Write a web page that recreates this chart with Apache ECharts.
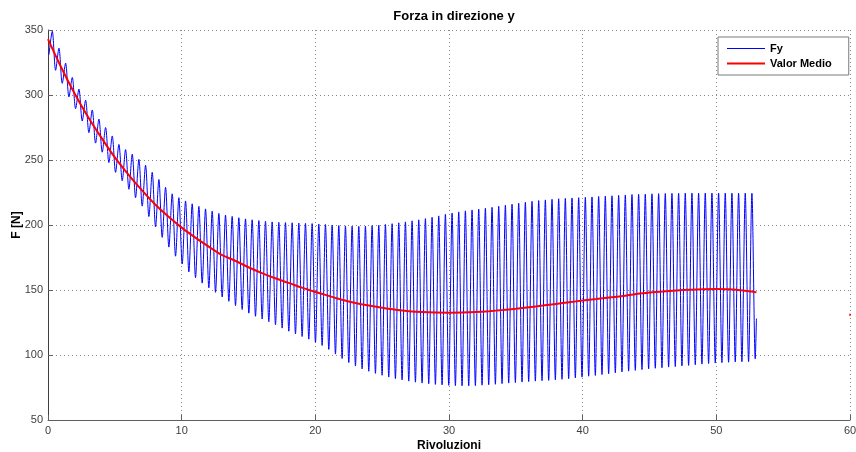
<!DOCTYPE html>
<html>
<head>
<meta charset="utf-8">
<style>
  html, body { margin: 0; padding: 0; background: #fff; }
  #chart { width: 856px; height: 452px; }
</style>
<script src="https://cdn.jsdelivr.net/npm/echarts@6/dist/echarts.min.js"></script>
</head>
<body>
<div id="chart"></div>
<script>
// Fy oscillation: successive minima and maxima of the force [N]
const fyTroughs = [
  331, 319, 309, 298.5, 289.5, 280, 271, 263, 256, 248,
  240.5, 234, 227.5, 221, 214.5, 206.5, 198.5, 190.5, 183, 176,
  170, 164, 159.5, 155.3, 151.7, 148.2, 144.7, 141.3, 138, 135,
  132.2, 129.8, 127.7, 125.6, 123.2, 120.7, 118.3, 116.2, 114.2, 112.2,
  109.8, 107.3, 104.3, 100.7, 97.3, 94.2, 91.5, 89.3, 87.5, 85.9,
  84.4, 83, 81.8, 80.8, 79.9, 79.1, 78.4, 77.9, 77.4, 77,
  76.7, 76.5, 76.3, 76.3, 76.5, 76.8, 77.1, 77.5, 78, 78.4,
  78.8, 79.2, 79.6, 79.9, 80.2, 80.5, 80.9, 81.3, 81.8, 82.4,
  83, 83.7, 84.3, 85, 85.6, 86.3, 87, 87.6, 88.2, 88.8,
  89.3, 89.8, 90.2, 90.7, 91.1, 91.6, 92, 92.5, 93, 93.5,
  93.8, 94.1, 94.4, 94.6, 94.8, 94.9, 97
];
const fyPeaks = [
  349, 336, 324.5, 313.5, 304.5, 296, 288.5, 281.5, 275, 268.5,
  262, 258, 254.5, 250.5, 246, 240.5, 235, 229, 224, 221,
  218.5, 216.3, 214.3, 212.4, 210.6, 208.9, 207.6, 206.6, 205.6, 204.7,
  204, 203.4, 202.9, 202.4, 202.1, 201.9, 201.7, 201.5, 201.3, 201.1,
  200.8, 200.4, 200, 199.6, 199.3, 199.1, 199, 199.2, 199.5, 199.9,
  200.4, 201, 201.7, 202.4, 203.2, 204, 204.9, 205.9, 207, 208.2,
  209.2, 210.1, 210.9, 211.6, 212.3, 212.9, 213.6, 214.4, 215.2, 216,
  216.8, 217.5, 218.2, 218.8, 219.3, 219.8, 220.2, 220.5, 220.8, 221,
  221.3, 221.6, 221.9, 222.2, 222.5, 222.8, 223.1, 223.4, 223.6, 223.8,
  224, 224.1, 224.2, 224.3, 224.4, 224.5, 224.5, 224.5, 224.6, 224.6,
  224.6, 224.6, 224.5, 224.5, 224.5, 224.4
];
// revolution of the first minimum and length of one oscillation cycle
const fyFirstTroughRev = 0.07;
const fyCycleRev = 0.4985;
// last recorded sample [revolution, N]
const fyLastSample = [53.0, 128];

// mean force per revolution
const meanRevs = [
  0, 1, 2, 3, 4, 5, 6, 7, 8, 9,
  10, 11, 12, 13, 14, 15, 16, 17, 18, 19,
  20, 21, 22, 23, 24, 25, 26, 27, 28, 29,
  30, 31, 32, 33, 34, 35, 36, 37, 38, 39,
  40, 41, 42, 43, 44, 45, 46, 47, 48, 49,
  50, 51, 52, 53
];
const meanForce = [
  343, 321, 301, 283, 267, 252, 239, 227, 216, 206.5,
  198, 190.5, 183.5, 177, 172.5, 167.5, 163, 159, 155.5, 151.8,
  148.5, 145.5, 142.5, 140, 138, 136.3, 134.8, 133.7, 133, 132.6,
  132.5, 132.6, 133, 133.7, 134.6, 135.6, 136.8, 138, 139.3, 140.6,
  141.9, 143.1, 144.3, 145.4, 147, 148, 148.9, 149.6, 150.2, 150.6,
  150.7, 150.5, 149.6, 148.2
];
const meanStray = [[60, 131]];

const xTicks = { min: 0, max: 60, step: 10 };
const yTicks = { min: 50, max: 350, step: 50 };

// assemble the Fy trace: minimum, maximum, minimum, ...
const fyData = [];
for (let k = 0; k < fyTroughs.length; k++) {
  const rev = fyFirstTroughRev + k * fyCycleRev;
  fyData.push([rev, fyTroughs[k]]);
  if (k < fyPeaks.length) fyData.push([rev + fyCycleRev / 2, fyPeaks[k]]);
}
fyData.push(fyLastSample);

const meanData = meanRevs.map((r, i) => [r, meanForce[i]]);

const FONT = '"Liberation Sans", Arial, sans-serif';
const NARROW = '"Liberation Sans Narrow", "Liberation Sans", Arial, sans-serif';
const gridLine = { show: true, lineStyle: { color: '#8a8a8a', type: [1, 3], width: 1 } };

const chart = echarts.init(document.getElementById('chart'), null, { renderer: 'canvas' });
chart.setOption({
  animation: false,
  backgroundColor: '#ffffff',
  title: {
    text: 'Forza in direzione y',
    left: 449, top: 5, textAlign: 'center',
    textStyle: { fontFamily: FONT, fontWeight: 'bold', fontSize: 13, color: '#000' }
  },
  legend: {
    orient: 'vertical',
    left: 718, top: 37,
    padding: [6, 17, 6, 8],
    itemGap: 4,
    itemWidth: 38, itemHeight: 10,
    itemStyle: { opacity: 0 },
    backgroundColor: '#fff',
    borderColor: '#7a7a7a', borderWidth: 1,
    textStyle: { fontFamily: FONT, fontWeight: 'bold', fontSize: 11, color: '#000' },
    data: [
      { name: 'Fy', lineStyle: { width: 1 } },
      { name: 'Valor Medio', lineStyle: { width: 2 } }
    ]
  },
  grid: { left: 48, right: 6, top: 30, bottom: 32, containLabel: false, outerBoundsMode: 'none' },
  xAxis: {
    type: 'value', min: xTicks.min, max: xTicks.max, interval: xTicks.step,
    name: 'Rivoluzioni', nameLocation: 'middle', nameGap: 20, nameMoveOverlap: false,
    nameTextStyle: { fontFamily: FONT, fontWeight: 'bold', fontSize: 12, color: '#000' },
    axisLine: { show: true, lineStyle: { color: '#606060', width: 1 } },
    axisTick: { show: true, inside: true, length: 5, lineStyle: { color: '#606060' } },
    axisLabel: { fontFamily: NARROW, fontSize: 11, color: '#404040', margin: 5 },
    splitLine: gridLine
  },
  yAxis: {
    type: 'value', min: yTicks.min, max: yTicks.max, interval: yTicks.step,
    name: 'F [N]', nameLocation: 'middle', nameGap: 25, nameRotate: 90, nameMoveOverlap: false,
    nameTextStyle: { fontFamily: FONT, fontWeight: 'bold', fontSize: 12, color: '#000' },
    axisLine: { show: true, lineStyle: { color: '#404040', width: 1 } },
    axisTick: { show: true, inside: true, length: 5, lineStyle: { color: '#606060' } },
    axisLabel: { fontFamily: NARROW, fontSize: 11, color: '#404040', margin: 5 },
    splitLine: gridLine
  },
  series: [
    {
      name: 'Fy', type: 'line', data: fyData,
      symbol: 'none', smooth: 0.3,
      lineStyle: { color: '#0000ff', width: 1 },
      itemStyle: { color: '#0000ff' },
      z: 2
    },
    {
      name: 'Valor Medio', type: 'line', data: meanData,
      symbol: 'none', smooth: 0.3,
      lineStyle: { color: '#ff0000', width: 2 },
      itemStyle: { color: '#ff0000' },
      z: 3
    },
    {
      type: 'scatter', data: meanStray, symbol: 'rect', symbolSize: 2,
      itemStyle: { color: '#ff0000' }, clip: false, silent: true, z: 3
    }
  ]
});
</script>
</body>
</html>
